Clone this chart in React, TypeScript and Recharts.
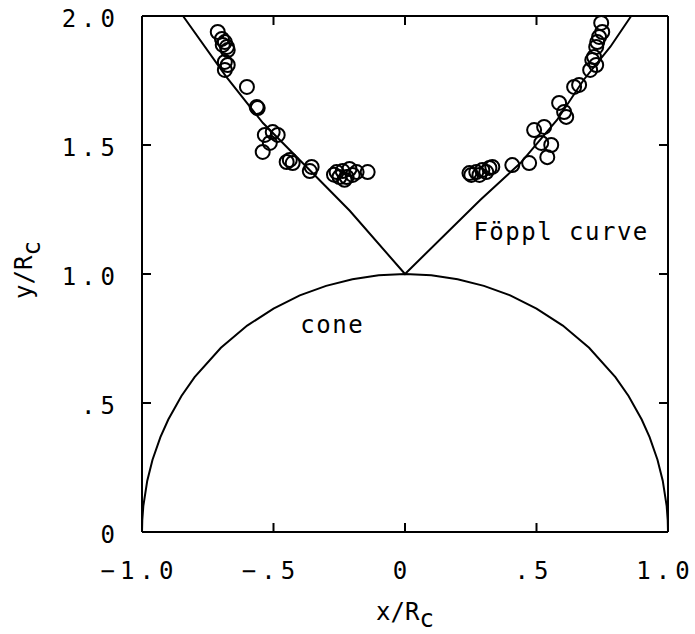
import React from 'react';
import { ScatterChart, Scatter, XAxis, YAxis, ReferenceDot } from 'recharts';

const FONT = '"DejaVu Sans Mono", monospace';

// axis ticks
const xTicks = [-1, -0.5, 0, 0.5, 1];
const xTickLabels = ['−1.0', '−.5', '0', '.5', '1.0'];
const yTicks = [0, 0.5, 1, 1.5, 2];
const yTickLabels = ['0', '.5', '1.0', '1.5', '2.0'];

// measured shock positions (x/Rc, y/Rc)
const measX = [
  -0.712, -0.696, -0.685, -0.693, -0.677, -0.674, -0.685, -0.674, -0.685,
  -0.601, -0.564, -0.56,
  -0.533, -0.503, -0.484, -0.514, -0.541,
  -0.45, -0.438, -0.427, -0.355, -0.362,
  -0.26, -0.237, -0.211, -0.184, -0.249, -0.222, -0.199, -0.27, -0.23, -0.142,
  0.245, 0.252, 0.271, 0.283, 0.294, 0.309, 0.321, 0.332, 0.408, 0.472,
  0.491, 0.529, 0.518, 0.556, 0.541,
  0.586, 0.605, 0.613, 0.643, 0.662,
  0.704, 0.727, 0.712, 0.719, 0.727, 0.731, 0.738, 0.75, 0.746,
];
const measY = [
  1.938, 1.911, 1.899, 1.888, 1.88, 1.868, 1.822, 1.81, 1.791,
  1.725, 1.647, 1.643,
  1.539, 1.55, 1.539, 1.508, 1.473,
  1.434, 1.442, 1.43, 1.415, 1.399,
  1.395, 1.399, 1.407, 1.395, 1.376, 1.376, 1.384, 1.385, 1.365, 1.395,
  1.391, 1.384, 1.395, 1.384, 1.403, 1.395, 1.411, 1.415, 1.422, 1.43,
  1.558, 1.57, 1.508, 1.5, 1.453,
  1.663, 1.628, 1.609, 1.725, 1.733,
  1.791, 1.81, 1.829, 1.841, 1.88, 1.899, 1.919, 1.938, 1.973,
];

// cone outline
const coneX = [-1, -0.999, -0.995, -0.98, -0.96, -0.93, -0.9, -0.85, -0.8, -0.7, -0.6, -0.5, -0.4, -0.3, -0.2, -0.1, 0,
  0.1, 0.2, 0.3, 0.4, 0.5, 0.6, 0.7, 0.8, 0.85, 0.9, 0.93, 0.96, 0.98, 0.995, 0.999, 1];
const coneY = [0, 0.045, 0.1, 0.199, 0.28, 0.368, 0.436, 0.527, 0.6, 0.714, 0.8, 0.866, 0.917, 0.954, 0.98, 0.995, 1,
  0.995, 0.98, 0.954, 0.917, 0.866, 0.8, 0.714, 0.6, 0.527, 0.436, 0.368, 0.28, 0.199, 0.1, 0.045, 0];

// Föppl curve
const foepplX = [-0.844, -0.68, -0.54, -0.36, -0.21, 0, 0.286, 0.439, 0.578, 0.679, 0.781, 0.86];
const foepplY = [2.0, 1.765, 1.585, 1.4, 1.245, 1.0, 1.287, 1.43, 1.597, 1.752, 1.881, 2.0];

const measured = measX.map((x, i) => ({ x, y: measY[i] }));
const cone = coneX.map((x, i) => ({ x, y: coneY[i] }));
const foeppl = foepplX.map((x, i) => ({ x, y: foepplY[i] }));

// inner tick marks on the frame
const innerX = xTicks.slice(1, -1);
const innerY = yTicks.slice(1, -1);
const bottomMarks = innerX.map((x) => ({ x, y: 0 }));
const topMarks = innerX.map((x) => ({ x, y: 2 }));
const leftMarks = innerY.map((y) => ({ x: -1, y }));
const rightMarks = innerY.map((y) => ({ x: 1, y }));

const TICK = 9;
const SPACING = 5;

const textStyle = { fontFamily: FONT, fontSize: 24, fill: '#000' };
const line2 = { stroke: '#000', strokeWidth: 2 };

const mark = (dx: number, dy: number) => (p: any) => (
  <path
    d={`M${p.cx},${p.cy}L${p.cx + dx},${p.cy + dy}`}
    fill="none"
    stroke="#000"
    strokeWidth={2}
  />
);
const MarkUp = mark(0, -TICK);
const MarkDown = mark(0, TICK);
const MarkRight = mark(TICK, 0);
const MarkLeft = mark(-TICK, 0);

const XTick = (p: any) => {
  const i = xTicks.indexOf(p.payload.value);
  return (
    <text x={p.x} y={p.y} dx={-SPACING / 2} dy={55} textAnchor="middle" style={{ ...textStyle, letterSpacing: SPACING }}>
      {xTickLabels[i]}
    </text>
  );
};

const YTick = (p: any) => {
  const i = yTicks.indexOf(p.payload.value);
  return (
    <text x={p.x} y={p.y} dx={SPACING} dy={11} textAnchor="end" style={{ ...textStyle, letterSpacing: SPACING }}>
      {yTickLabels[i]}
    </text>
  );
};

const XLabel = (p: any) => {
  const vb = p.viewBox;
  return (
    <text x={vb.x + vb.width / 2} y={vb.y + 88} textAnchor="middle" style={textStyle}>
      x/R<tspan dy={7}>c</tspan>
    </text>
  );
};

const YLabel = (p: any) => {
  const vb = p.viewBox;
  const cx = vb.x - 109;
  const cy = vb.y + vb.height / 2 - 4;
  return (
    <text x={cx} y={cy} transform={`rotate(-90, ${cx}, ${cy})`} textAnchor="middle" style={textStyle}>
      y/R<tspan dy={8}>c</tspan>
    </text>
  );
};

const Ring = (p: any) => (
  <circle cx={p.cx} cy={p.cy} r={7} fill="none" stroke="#000" strokeWidth={2} />
);

const NoDot = () => <g />;

export default function App() {
  return (
    <div style={{ position: 'absolute', left: 0, top: 0, background: '#fff' }}>
      <ScatterChart width={695} height={634} margin={{ top: 15, right: 26, bottom: 101, left: 141 }}>
        <XAxis
          xAxisId="b"
          type="number"
          dataKey="x"
          domain={[-1, 1]}
          ticks={xTicks}
          height={1}
          axisLine={line2}
          tickLine={false}
          tickSize={-8}
          tickMargin={0}
          tick={XTick}
          label={{ content: XLabel }}
        />
        <XAxis
          xAxisId="t"
          orientation="top"
          type="number"
          dataKey="x"
          domain={[-1, 1]}
          ticks={xTicks}
          height={1}
          axisLine={line2}
          tickLine={false}
          tick={false}
        />
        <YAxis
          yAxisId="l"
          type="number"
          dataKey="y"
          domain={[0, 2]}
          ticks={yTicks}
          width={1}
          axisLine={line2}
          tickLine={false}
          tickSize={-8}
          tickMargin={35}
          tick={YTick}
          label={{ content: YLabel }}
        />
        <YAxis
          yAxisId="r"
          orientation="right"
          type="number"
          dataKey="y"
          domain={[0, 2]}
          ticks={yTicks}
          width={1}
          axisLine={line2}
          tickLine={false}
          tick={false}
        />
        <Scatter xAxisId="b" yAxisId="l" data={bottomMarks} shape={MarkUp} isAnimationActive={false} />
        <Scatter xAxisId="b" yAxisId="l" data={topMarks} shape={MarkDown} isAnimationActive={false} />
        <Scatter xAxisId="b" yAxisId="l" data={leftMarks} shape={MarkRight} isAnimationActive={false} />
        <Scatter xAxisId="b" yAxisId="l" data={rightMarks} shape={MarkLeft} isAnimationActive={false} />
        <Scatter
          xAxisId="b"
          yAxisId="l"
          data={cone}
          line={line2}
          shape={NoDot}
          isAnimationActive={false}
        />
        <Scatter
          xAxisId="b"
          yAxisId="l"
          data={foeppl}
          line={line2}
          shape={NoDot}
          isAnimationActive={false}
        />
        <Scatter
          xAxisId="b"
          yAxisId="l"
          data={measured}
          shape={Ring}
          isAnimationActive={false}
        />
        <ReferenceDot
          xAxisId="b"
          yAxisId="l"
          x={0.26}
          y={1.132}
          shape={(p: any) => (
            <text x={p.cx} y={p.cy} style={{ ...textStyle, letterSpacing: 1.5 }}>Föppl curve</text>
          )}
        />
        <ReferenceDot
          xAxisId="b"
          yAxisId="l"
          x={-0.398}
          y={0.771}
          shape={(p: any) => (
            <text x={p.cx} y={p.cy} style={{ ...textStyle, letterSpacing: 1.5 }}>cone</text>
          )}
        />
      </ScatterChart>
    </div>
  );
}
